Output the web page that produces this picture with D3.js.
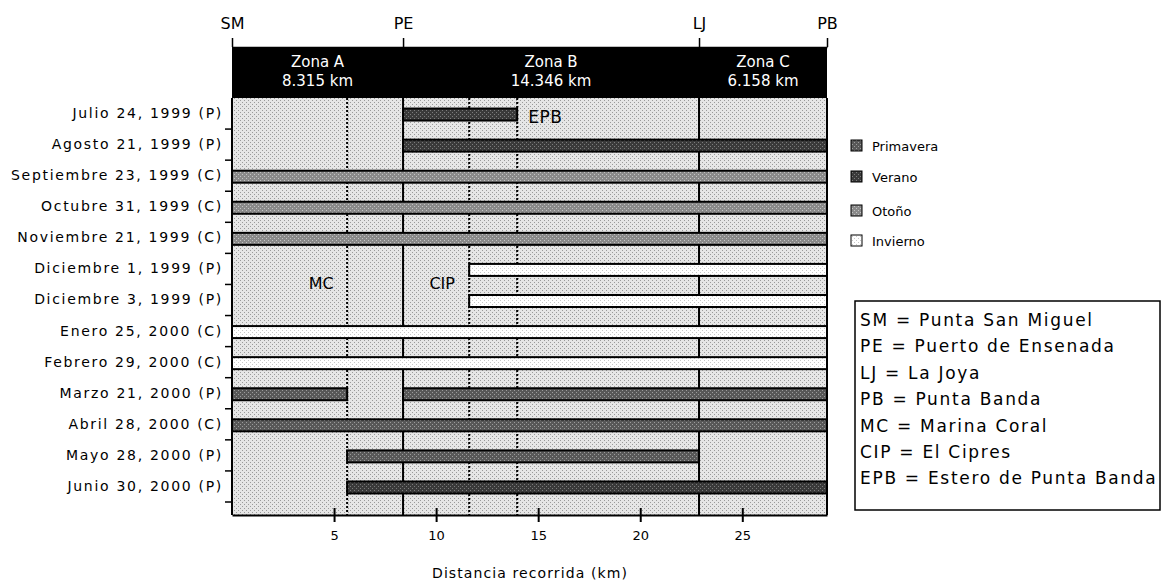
<html>
<head>
<script src="https://d3js.org/d3.v7.min.js" charset="utf-8"></script>
<style>
  body { margin: 0; background: #fff; }
  text { font-family: "DejaVu Sans", sans-serif; }
</style>
</head>
<body>
<div id="chart"></div>
<script>
// fechas de muestreo (eje y)
var fechas = ['Julio 24, 1999 (P)', 'Agosto 21, 1999 (P)', 'Septiembre 23, 1999 (C)',
  'Octubre 31, 1999 (C)', 'Noviembre 21, 1999 (C)', 'Diciembre 1, 1999 (P)',
  'Diciembre 3, 1999 (P)', 'Enero 25, 2000 (C)', 'Febrero 29, 2000 (C)',
  'Marzo 21, 2000 (P)', 'Abril 28, 2000 (C)', 'Mayo 28, 2000 (P)', 'Junio 30, 2000 (P)'];
var estacion = ['Verano', 'Verano', 'Otoño', 'Otoño', 'Otoño', 'Invierno', 'Invierno',
  'Invierno', 'Invierno', 'Primavera', 'Primavera', 'Primavera', 'Verano'];
// tramos recorridos (km) por fecha
var tramos = [
  [[8.38, 13.97]], [[8.38, 29.15]], [[0, 29.15]], [[0, 29.15]], [[0, 29.15]],
  [[11.62, 29.15]], [[11.62, 29.15]], [[0, 29.15]], [[0, 29.15]],
  [[0, 5.64], [8.38, 29.15]], [[0, 29.15]], [[5.64, 22.88]], [[5.64, 29.15]]
];
var sitios = ['SM', 'PE', 'LJ', 'PB'];
var sitiosKm = [0, 8.38, 22.88, 29.15];
var refs = ['MC', 'CIP', 'EPB'];
var refsKm = [5.64, 11.62, 13.97];
var zonas = ['Zona A', 'Zona B', 'Zona C'];
var zonasLong = ['8.315 km', '14.346 km', '6.158 km'];
var xTicks = [5, 10, 15, 20, 25];
var estaciones = ['Primavera', 'Verano', 'Otoño', 'Invierno'];
var claves = ['SM = Punta San Miguel', 'PE = Puerto de Ensenada', 'LJ = La Joya',
  'PB = Punta Banda', 'MC = Marina Coral', 'CIP = El Cipres', 'EPB = Estero de Punta Banda'];

var W = 1163, H = 587;
var pLeft = 232, pRight = 827, pTop = 98, bandBottom = 502, pBottom = 515;

var svg = d3.select('#chart').append('svg')
  .attr('width', W).attr('height', H)
  .style('background', '#fff');

// patrones punteados
var defs = svg.append('defs');
function patron(id, base, dot) {
  var p = defs.append('pattern').attr('id', id)
    .attr('width', 4).attr('height', 4).attr('patternUnits', 'userSpaceOnUse');
  p.append('rect').attr('width', 4).attr('height', 4).attr('fill', base);
  p.append('rect').attr('x', 0).attr('y', 0).attr('width', 1).attr('height', 1).attr('fill', dot);
  p.append('rect').attr('x', 2).attr('y', 2).attr('width', 1).attr('height', 1).attr('fill', dot);
}
patron('fondo', '#e6e6e6', '#9a9a9a');
patron('p-Primavera', '#585858', '#9c9c9c');
patron('p-Verano', '#3a3a3a', '#7c7c7c');
patron('p-Otoño', '#8a8a8a', '#c4c4c4');
patron('p-Invierno', '#ffffff', '#c8c8c8');

var x = d3.scaleLinear().domain([0, 29.15]).range([pLeft, pRight]);
var y = d3.scaleBand().domain(fechas).range([pTop, bandBottom]);

// fondo
svg.append('rect')
  .attr('x', pLeft).attr('y', pTop).attr('width', pRight - pLeft).attr('height', pBottom - pTop)
  .attr('fill', 'url(#fondo)');

// lineas punteadas (MC, CIP, EPB)
svg.selectAll('.ref').data(refsKm).enter().append('line')
  .attr('x1', function(d) { return x(d); }).attr('x2', function(d) { return x(d); })
  .attr('y1', pTop).attr('y2', pBottom)
  .style('stroke', '#000').style('stroke-width', 2).style('stroke-dasharray', '2,2');

// lineas de zona (PE, LJ)
svg.selectAll('.zl').data(sitiosKm.slice(1, 3)).enter().append('line')
  .attr('x1', function(d) { return x(d); }).attr('x2', function(d) { return x(d); })
  .attr('y1', pTop).attr('y2', pBottom)
  .style('stroke', '#000').style('stroke-width', 2);

// barras
var bh = 12;
fechas.forEach(function(f, i) {
  svg.selectAll('.b' + i).data(tramos[i]).enter().append('rect')
    .attr('x', function(d) { return x(d[0]); })
    .attr('width', function(d) { return x(d[1]) - x(d[0]); })
    .attr('y', y(f) + (y.bandwidth() - bh) / 2 + 1)
    .attr('height', bh)
    .attr('fill', 'url(#p-' + estacion[i] + ')')
    .style('stroke', '#000').style('stroke-width', 2);
});

// etiquetas de sitios dentro
svg.append('text').attr('x', x(refsKm[0]) - 26).attr('y', y(fechas[5]) + y.bandwidth() + 5)
  .attr('text-anchor', 'middle').style('font-size', '16px').text(refs[0]);
svg.append('text').attr('x', x(refsKm[1]) - 27).attr('y', y(fechas[5]) + y.bandwidth() + 5)
  .attr('text-anchor', 'middle').style('font-size', '16px').text(refs[1]);
svg.append('text').attr('x', x(refsKm[2]) + 11).attr('y', y(fechas[0]) + y.bandwidth() / 2 + 9)
  .style('font-size', '17px').style('letter-spacing', '0.5px').text(refs[2]);

// borde derecho
svg.append('line').attr('x1', pRight).attr('x2', pRight).attr('y1', pTop).attr('y2', pBottom)
  .style('stroke', '#000').style('stroke-width', 2);

// encabezado negro
svg.append('rect').attr('x', pLeft).attr('y', 47).attr('width', pRight - pLeft).attr('height', pTop - 47)
  .attr('fill', '#000');
zonas.forEach(function(z, i) {
  var cx = (x(sitiosKm[i]) + x(sitiosKm[i + 1])) / 2;
  svg.append('text').attr('x', cx).attr('y', 67).attr('text-anchor', 'middle')
    .attr('fill', '#fff').style('font-size', '15px').text(z);
  svg.append('text').attr('x', cx).attr('y', 86).attr('text-anchor', 'middle')
    .attr('fill', '#fff').style('font-size', '15px').text(zonasLong[i]);
});

// eje superior
var topAxis = d3.axisTop(x).tickValues(sitiosKm).tickFormat(function(d, i) { return sitios[i]; })
  .tickSize(9).tickSizeOuter(0).tickPadding(9);
var tg = svg.append('g').attr('transform', 'translate(0,47)').call(topAxis);
tg.selectAll('path').style('stroke', '#000').style('stroke-width', 1.5);
tg.selectAll('line').style('stroke', '#000').style('stroke-width', 1.5);
tg.selectAll('text').style('font-size', '16px').style('fill', '#000').style('font-family', '"DejaVu Sans", sans-serif');

// eje y
var yAxis = d3.axisLeft(y).tickSize(0).tickPadding(9);
var yg = svg.append('g').attr('transform', 'translate(' + pLeft + ',0)').call(yAxis);
yg.select('.domain').remove();
yg.selectAll('text').style('font-size', '14px').style('letter-spacing', '1.7px')
  .style('fill', '#000').style('font-family', '"DejaVu Sans", sans-serif');
svg.append('line').attr('x1', pLeft).attr('x2', pLeft).attr('y1', pTop).attr('y2', pBottom)
  .style('stroke', '#000').style('stroke-width', 2);
svg.selectAll('.yt').data(fechas.slice(1).concat(['fin'])).enter().append('line')
  .attr('x1', pLeft - 7).attr('x2', pLeft)
  .attr('y1', function(d, i) { return i < fechas.length - 1 ? y(d) : bandBottom; })
  .attr('y2', function(d, i) { return i < fechas.length - 1 ? y(d) : bandBottom; })
  .style('stroke', '#000').style('stroke-width', 1.5);

// eje x
var xAxis = d3.axisBottom(x).tickValues(xTicks).tickSize(7).tickSizeOuter(0).tickPadding(9);
var xg = svg.append('g').attr('transform', 'translate(0,' + pBottom + ')').call(xAxis);
xg.selectAll('path').style('stroke', '#000').style('stroke-width', 2);
xg.selectAll('line').attr('y1', -7).style('stroke', '#000').style('stroke-width', 2);
xg.selectAll('text').style('font-size', '13px').style('fill', '#000').style('font-family', '"DejaVu Sans", sans-serif');
svg.append('text').attr('x', 530).attr('y', 578).attr('text-anchor', 'middle')
  .style('font-size', '14px').style('letter-spacing', '1.1px').text('Distancia recorrida (km)');

// leyenda estaciones
var ley = svg.append('g');
var leyY = [146, 177, 211, 241];
estaciones.forEach(function(e, i) {
  ley.append('rect').attr('x', 851).attr('y', leyY[i] - 6).attr('width', 11).attr('height', 11)
    .attr('fill', 'url(#p-' + e + ')').style('stroke', '#000').style('stroke-width', 1);
  ley.append('text').attr('x', 872).attr('y', leyY[i] + 5).style('font-size', '13px').text(e);
});

// cuadro de claves
svg.append('rect').attr('x', 855).attr('y', 301).attr('width', 305).attr('height', 209)
  .attr('fill', '#fff').style('stroke', '#000').style('stroke-width', 1.5);
claves.forEach(function(c, i) {
  svg.append('text').attr('x', 860).attr('y', 326 + i * 26.4)
    .style('font-size', '17px').style('letter-spacing', '1.7px').text(c);
});
</script>
</body>
</html>
